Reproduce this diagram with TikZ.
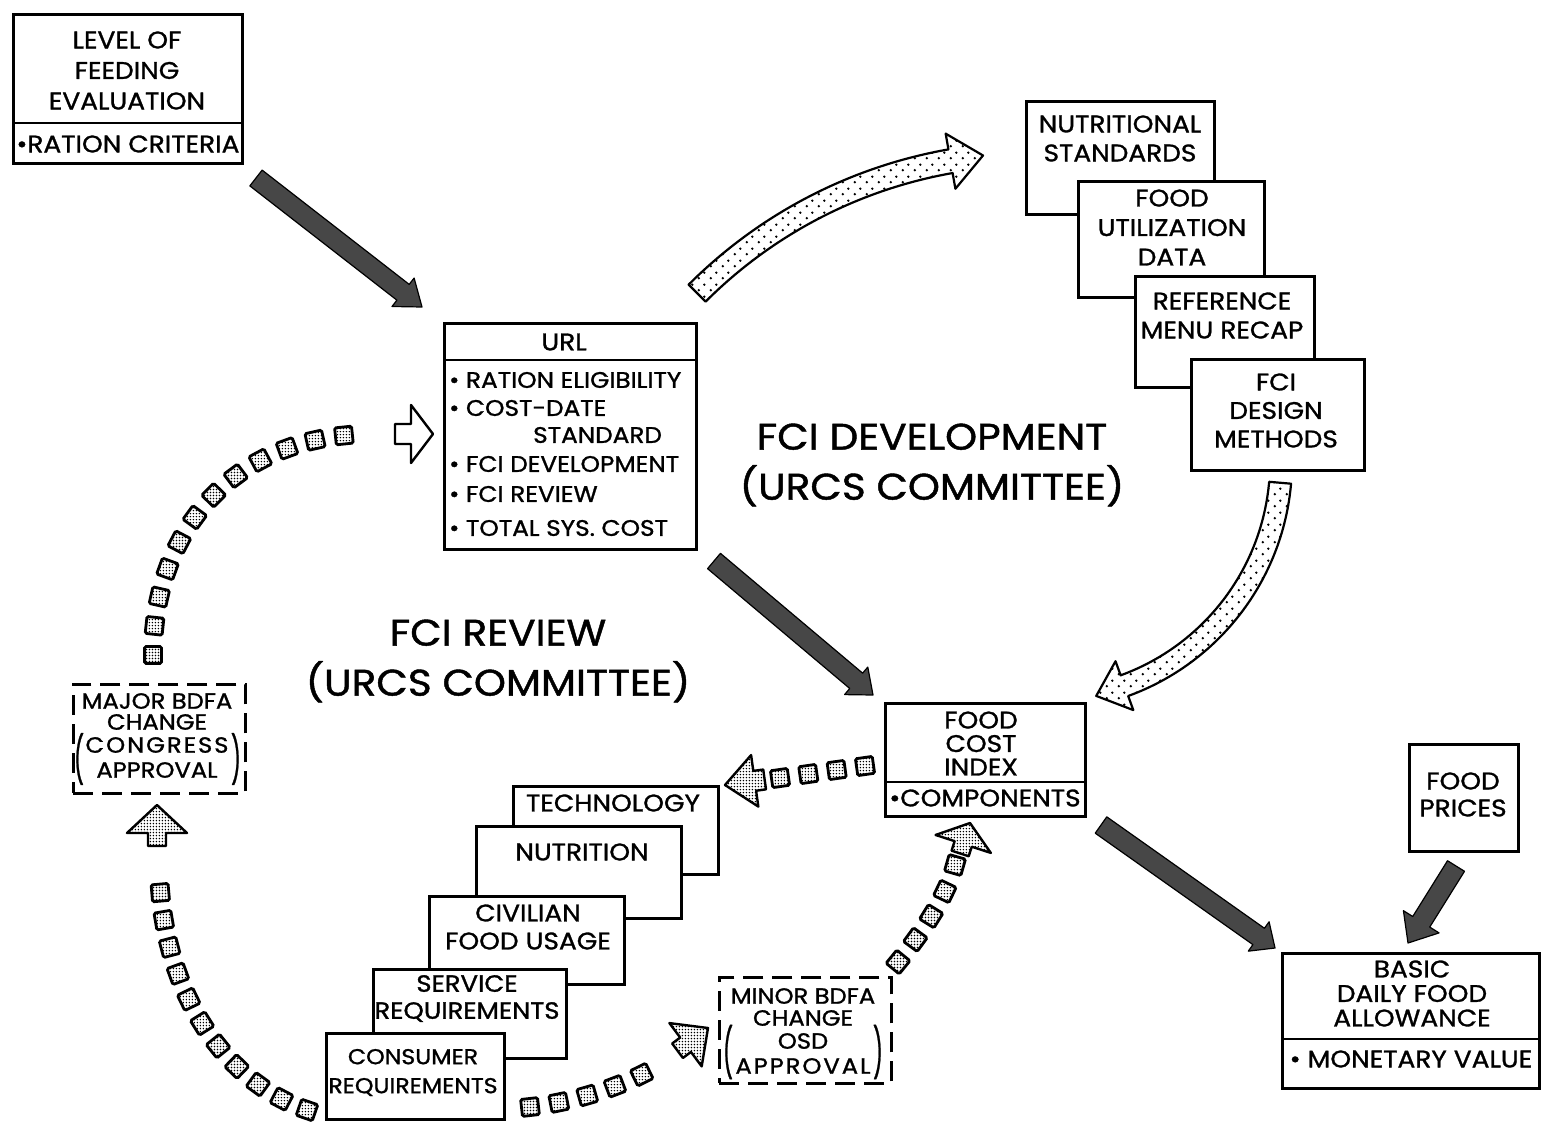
\documentclass[tikz,border=0pt]{standalone}
\usepackage{fontspec}
\setmainfont{Poppins}[FakeStretch=1.1, FakeBold=1.2]
\usetikzlibrary{calc,patterns,patterns.meta,decorations.markings}

% coarse stipple for the large curved arrows
\tikzdeclarepattern{
  name=stipple, type=uncolored,
  bottom left={(0pt,0pt)}, top right={(12pt,12pt)},
  tile size={(12pt,12pt)},
  code={\fill (3pt,3pt) circle (1.4pt); \fill (9pt,9pt) circle (1.4pt);}
}
% fine dot grid for the square-link chains
\tikzdeclarepattern{
  name=griddots, type=uncolored,
  bottom left={(0pt,0pt)}, top right={(3.4pt,3.4pt)},
  tile size={(3.4pt,3.4pt)},
  code={\fill (1.7pt,1.7pt) circle (0.9pt);}
}

\newcommand\setfs[2]{\fontsize{#1}{#2}\selectfont}

% block arrow: #1 style, #2 tail, #3 tip, #4 shaft half width, #5 head half width, #6 head length
\newcommand\fatarrow[6]{%
  \coordinate (fa-h) at ($(#3)!#6!(#2)$);
  \path[#1] ($(#2)!#4!90:(#3)$) -- ($(fa-h)!#4!90:(#3)$) -- ($(fa-h)!#5!90:(#3)$)
    -- (#3) -- ($(fa-h)!#5!-90:(#3)$) -- ($(fa-h)!#4!-90:(#3)$)
    -- ($(#2)!#4!-90:(#3)$) -- cycle;}

\tikzset{
  box/.style={draw, line width=2.6pt, fill=white, inner sep=0pt, anchor=north west},
  dbox/.style={draw, line width=2.8pt, dash pattern=on 20pt off 9pt, inner sep=0pt, anchor=north west},
  divider/.style={line width=2.6pt},
  txt/.style={align=center, inner sep=0pt, font=\setfs{24}{29}},
  itm/.style={inner sep=0pt, anchor=west, font=\setfs{22.5}{24}},
  head/.style={align=center, inner sep=0pt, font=\setfs{37}{50}},
  spaced/.style={font=\setfs{22}{25}\addfontfeature{LetterSpace=9}},
  dark/.style={draw=black, line width=1.2pt, fill=black!72, line join=round},
  stip/.style={draw, line width=2.2pt, pattern=stipple, line join=round},
  link/.style={draw, line width=2.8pt, minimum size=17pt, inner sep=0pt,
    pattern=griddots, rounded corners=1.5pt, transform shape},
  linkhead/.style={draw, line width=2.4pt, pattern=griddots, line join=round},
  chain/.style={decoration={markings,
    mark=between positions 0 and 1 step #1 with {\node[link] {};}}, decorate}
}

\begin{document}
\begin{tikzpicture}[x=1pt,y=1pt]
\useasboundingbox (0,0) rectangle (1541,-1121);
\fill[white] (0,0) rectangle (1541,-1121);

% ---------- level of feeding evaluation ----------
\node[box, minimum width=229pt, minimum height=149pt] (lfe) at (12,-13) {};
\draw[divider] (12,-123) -- (241,-123);
\node[txt, font=\setfs{24}{30.5}] (lfe-t) at (127,-70.5) {LEVEL OF\\FEEDING\\EVALUATION};
\node[txt] (lfe-i) at (128,-144) {•RATION CRITERIA};

% ---------- URL ----------
\node[box, minimum width=252pt, minimum height=226pt] (url) at (443,-322) {};
\draw[divider] (443,-360) -- (695,-360);
\node[txt] (url-t) at (564,-342) {URL};
\node[itm] (url-1) at (449,-380) {• RATION ELIGIBILITY};
\node[itm] (url-2) at (449,-408) {• COST-DATE};
\node[itm] (url-3) at (533,-435) {STANDARD};
\node[itm] (url-4) at (449,-464) {• FCI DEVELOPMENT};
\node[itm] (url-5) at (449,-494) {• FCI REVIEW};
\node[itm] (url-6) at (449,-528) {• TOTAL SYS. COST};

% ---------- FCI development inputs ----------
\node[box, minimum width=188pt, minimum height=113pt] (ns) at (1025,-100) {};
\node[txt] (ns-t) at (1120,-138.5) {NUTRITIONAL\\STANDARDS};
\node[box, minimum width=186pt, minimum height=116pt] (fud) at (1077,-180) {};
\node[txt, font=\setfs{24}{29.5}] (fud-t) at (1172,-227.5) {FOOD\\UTILIZATION\\DATA};
\node[box, minimum width=179pt, minimum height=111pt] (rmr) at (1134,-275) {};
\node[txt] (rmr-t) at (1222,-315.5) {REFERENCE\\MENU RECAP};
\node[box, minimum width=173pt, minimum height=111pt] (fdm) at (1190,-358) {};
\node[txt, font=\setfs{24}{28.5}] (fdm-t) at (1276,-410.5) {FCI\\DESIGN\\METHODS};

% ---------- headings ----------
\node[head] (dev) at (932,-465) {FCI DEVELOPMENT\\(URCS COMMITTEE)};
\node[head] (rev) at (498,-661) {FCI REVIEW\\(URCS COMMITTEE)};

% ---------- food cost index ----------
\node[box, minimum width=200pt, minimum height=113pt] (fci) at (884,-702) {};
\draw[divider] (884,-782) -- (1084,-782);
\node[txt, font=\setfs{24}{23.5}] (fci-t) at (981,-743.5) {FOOD\\COST\\INDEX};
\node[txt] (fci-i) at (985,-798) {•COMPONENTS};

% ---------- food prices / BDFA ----------
\node[box, minimum width=109pt, minimum height=107pt] (fp) at (1408,-743) {};
\node[txt, font=\setfs{24}{27}] (fp-t) at (1463,-794.5) {FOOD\\PRICES};
\node[box, minimum width=257pt, minimum height=135pt] (bdfa) at (1281,-952) {};
\draw[divider] (1281,-1039) -- (1538,-1039);
\node[txt, font=\setfs{24}{24.5}] (bdfa-t) at (1412,-993.5) {BASIC\\DAILY FOOD\\ALLOWANCE};
\node[txt] (bdfa-i) at (1411,-1059) {• MONETARY VALUE};

% ---------- FCI review inputs ----------
\node[box, minimum width=205pt, minimum height=88pt] (tech) at (512,-785) {};
\node[txt] (tech-t) at (613,-803) {TECHNOLOGY};
\node[box, minimum width=205pt, minimum height=92pt] (nut) at (475,-825) {};
\node[txt] (nut-t) at (582,-852) {NUTRITION};
\node[box, minimum width=195pt, minimum height=88pt] (civ) at (428,-895) {};
\node[txt, font=\setfs{24}{28}] (civ-t) at (528,-927) {CIVILIAN\\FOOD USAGE};
\node[box, minimum width=193pt, minimum height=89pt] (srv) at (372,-968) {};
\node[txt, font=\setfs{23.5}{27}] (srv-t) at (467,-998.5) {SERVICE\\REQUIREMENTS};
\node[box, minimum width=178pt, minimum height=86pt] (con) at (325,-1032) {};
\node[txt, font=\setfs{21.5}{29}] (con-t) at (413,-1072.5) {CONSUMER\\REQUIREMENTS};

% ---------- BDFA change boxes ----------
\node[dbox, minimum width=172pt, minimum height=109pt] (maj) at (72,-683) {};
\node[txt, font=\setfs{22}{21}] (maj-t) at (157,-711.5) {MAJOR BDFA\\CHANGE};
\node[txt, spaced] (maj-s) at (157,-745) {CONGRESS};
\node[txt, font=\setfs{22}{25}] (maj-a) at (157,-770) {APPROVAL};
\node[txt, font=\setfs{22}{25}] (maj-l) at (79,-759) {\scalebox{0.9}[2.1]{(}};
\node[txt, font=\setfs{22}{25}] (maj-r) at (236,-759) {\scalebox{0.9}[2.1]{)}};
\node[dbox, minimum width=172pt, minimum height=106pt] (mnr) at (718,-976) {};
\node[txt, font=\setfs{22}{22}] (mnr-t) at (803,-1007) {MINOR BDFA\\CHANGE};
\node[txt, font=\setfs{22}{25}] (mnr-o) at (803,-1041) {OSD};
\node[txt, spaced] (mnr-a) at (803,-1066) {APPROVAL};
\node[txt, font=\setfs{22}{25}] (mnr-l) at (728,-1052) {\scalebox{0.9}[2.2]{(}};
\node[txt, font=\setfs{22}{25}] (mnr-r) at (878,-1052) {\scalebox{0.9}[2.2]{)}};

% ---------- solid block arrows ----------
\coordinate (a1-s) at (256,-178);  \coordinate (a1-e) at (422,-307);
\fatarrow{dark}{a1-s}{a1-e}{10pt}{18pt}{24pt}
\coordinate (a2-s) at (714,-561);  \coordinate (a2-e) at (873,-695);
\fatarrow{dark}{a2-s}{a2-e}{10pt}{18pt}{22pt}
\coordinate (a3-s) at (1101,-825); \coordinate (a3-e) at (1275,-948);
\fatarrow{dark}{a3-s}{a3-e}{10pt}{18pt}{20pt}
\coordinate (a4-s) at (1456,-866); \coordinate (a4-e) at (1408,-943);
\fatarrow{dark}{a4-s}{a4-e}{10pt}{21pt}{25pt}

% ---------- stippled curved arrows ----------
\coordinate (ta-c) at (1033,-629);
\draw[stip] ($(ta-c)+(135:487)$) arc[start angle=135, end angle=100, radius=487pt]
  -- ($(ta-c)+(100:503)$) -- ($(ta-c)+(100:475)+(10:33)$) -- ($(ta-c)+(100:447)$)
  -- ($(ta-c)+(100:463)$) arc[start angle=100, end angle=135, radius=463pt] -- cycle;
\coordinate (ra-c) at (1043,-462);
\draw[stip] ($(ra-c)+(355:249)$) arc[start angle=355, end angle=290, radius=249pt]
  -- ($(ra-c)+(290:264)$) -- ($(ra-c)+(290:238)+(200:30)$) -- ($(ra-c)+(290:212)$)
  -- ($(ra-c)+(290:227)$) arc[start angle=290, end angle=355, radius=227pt] -- cycle;

% ---------- square-link chains ----------
% major change -> URL
\coordinate (c1-s) at (153,-655); \coordinate (c1-e) at (373,-434);
\path[chain=0.08333] (c1-s) .. controls (153,-530) and (235,-434) .. (c1-e);
\coordinate (h1-e) at (433,-434); \coordinate (h1-s) at (395,-434);
\fatarrow{draw, line width=2.4pt, fill=white, line join=round}{h1-s}{h1-e}{10pt}{29pt}{22pt}
% consumer requirements -> major change
\coordinate (c2-s) at (307,-1110); \coordinate (c2-e) at (159,-865);
\path[chain=0.090909] (c2-s) .. controls (220,-1080) and (160,-985) .. (c2-e);
\coordinate (h2-e) at (157,-805); \coordinate (h2-s) at (157,-846);
\fatarrow{linkhead}{h2-s}{h2-e}{9pt}{30pt}{28pt}
% food cost index -> review inputs
\coordinate (c3-s) at (865,-766); \coordinate (c3-e) at (780,-778);
\path[chain=0.33333] (c3-s) -- (c3-e);
\coordinate (h3-e) at (725,-785); \coordinate (h3-s) at ($(h3-e)+(8:40)$);
\fatarrow{linkhead}{h3-s}{h3-e}{10pt}{26pt}{30pt}
% consumer requirements -> minor change
\coordinate (c4-s) at (530,-1107); \coordinate (c4-e) at (667,-1060);
\path[chain=0.2] (c4-s) .. controls (575,-1102) and (630,-1085) .. (c4-e);
\coordinate (h4-e) at (708,-1028); \coordinate (h4-s) at ($(h4-e)+(216.7:38)$);
\fatarrow{linkhead}{h4-s}{h4-e}{9pt}{27pt}{28pt}
% minor change -> food cost index
\coordinate (c5-s) at (898,-962); \coordinate (c5-e) at (955,-865);
\path[chain=0.25] (c5-s) .. controls (920,-935) and (945,-900) .. (c5-e);
\coordinate (h5-e) at (970,-823); \coordinate (h5-s) at ($(h5-e)+(252:32)$);
\fatarrow{linkhead}{h5-s}{h5-e}{9pt}{29pt}{22pt}

\end{tikzpicture}
\end{document}
